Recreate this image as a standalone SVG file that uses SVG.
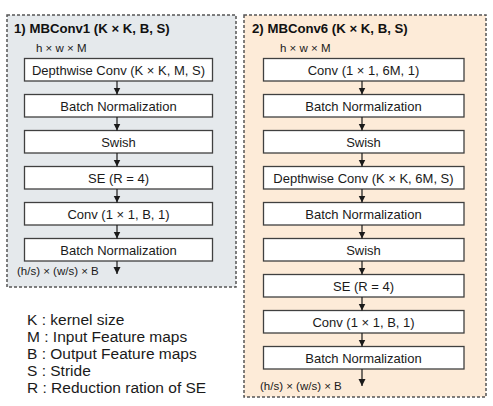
<svg xmlns="http://www.w3.org/2000/svg" width="493" height="406" viewBox="0 0 493 406">
<defs>
<style>
.panel{stroke:#555;stroke-width:1.5;stroke-dasharray:3 2}
.box rect{fill:#fff;stroke:#404040;stroke-width:1.3}
.box text,.t{font-family:"Liberation Sans",Arial,sans-serif;fill:#1a1a1a;text-anchor:middle;font-size:13px}
.title{font-family:"Liberation Sans",Arial,sans-serif;font-weight:bold;font-size:13.2px;fill:#111}
.sm{font-family:"Liberation Sans",Arial,sans-serif;font-size:11.5px;fill:#1a1a1a}
.leg{font-family:"Liberation Sans",Arial,sans-serif;font-size:15.5px;fill:#1a1a1a}
.conn line{stroke:#1a1a1a;stroke-width:1.2;marker-end:url(#ah)}
</style>
<marker id="ah" markerWidth="8" markerHeight="8" refX="7" refY="4" orient="auto" markerUnits="userSpaceOnUse">
<path d="M0,0.5 L7,4 L0,7.5 Z" fill="#1a1a1a"/>
</marker>
</defs>
<rect width="493" height="406" fill="#fff"/>
<g id="panel1">
<rect class="panel" x="7" y="15" width="229" height="272" fill="#e5e9ec"/>
<text class="title" x="14" y="33">1) MBConv1 (K × K, B, S)</text>
<text class="sm" x="36" y="52">h × w × M</text>
<text class="sm" x="17" y="275">(h/s) × (w/s) × B</text>
</g>
<g id="panel2">
<rect class="panel" x="244" y="15" width="242" height="382" fill="#fdebd8"/>
<text class="title" x="252" y="33">2) MBConv6 (K × K, B, S)</text>
<text class="sm" x="280" y="52">h × w × M</text>
<text class="sm" x="260" y="390">(h/s) × (w/s) × B</text>
</g>
<g id="a1" class="box"><rect x="24.5" y="58.5" width="188" height="22.5"/><text x="118.5" y="74.5">Depthwise Conv (K × K, M, S)</text></g>
<g id="a2" class="box"><rect x="24.5" y="94.5" width="188" height="22.5"/><text x="118.5" y="110.5">Batch Normalization</text></g>
<g id="a3" class="box"><rect x="24.5" y="130.5" width="188" height="22.5"/><text x="118.5" y="146.5">Swish</text></g>
<g id="a4" class="box"><rect x="24.5" y="166.5" width="188" height="22.5"/><text x="118.5" y="182.5">SE (R = 4)</text></g>
<g id="a5" class="box"><rect x="24.5" y="202.5" width="188" height="22.5"/><text x="118.5" y="218.5">Conv (1 × 1, B, 1)</text></g>
<g id="a6" class="box"><rect x="24.5" y="238.5" width="188" height="22.5"/><text x="118.5" y="254.5">Batch Normalization</text></g>
<g id="b1" class="box"><rect x="263.5" y="58.5" width="200.5" height="22.5"/><text x="363.5" y="74.5">Conv (1 × 1, 6M, 1)</text></g>
<g id="b2" class="box"><rect x="263.5" y="94.5" width="200.5" height="22.5"/><text x="363.5" y="110.5">Batch Normalization</text></g>
<g id="b3" class="box"><rect x="263.5" y="130.5" width="200.5" height="22.5"/><text x="363.5" y="146.5">Swish</text></g>
<g id="b4" class="box"><rect x="263.5" y="166.5" width="200.5" height="22.5"/><text x="363.5" y="182.5">Depthwise Conv (K × K, 6M, S)</text></g>
<g id="b5" class="box"><rect x="263.5" y="202.5" width="200.5" height="22.5"/><text x="363.5" y="218.5">Batch Normalization</text></g>
<g id="b6" class="box"><rect x="263.5" y="238.5" width="200.5" height="22.5"/><text x="363.5" y="254.5">Swish</text></g>
<g id="b7" class="box"><rect x="263.5" y="274.5" width="200.5" height="22.5"/><text x="363.5" y="290.5">SE (R = 4)</text></g>
<g id="b8" class="box"><rect x="263.5" y="310.5" width="200.5" height="22.5"/><text x="363.5" y="326.5">Conv (1 × 1, B, 1)</text></g>
<g id="b9" class="box"><rect x="263.5" y="346.5" width="200.5" height="22.5"/><text x="363.5" y="362.5">Batch Normalization</text></g>
<g id="connectors" class="conn">
<line x1="117" y1="81" x2="117" y2="94.5"/>
<line x1="117" y1="117" x2="117" y2="130.5"/>
<line x1="117" y1="153" x2="117" y2="166.5"/>
<line x1="117" y1="189" x2="117" y2="202.5"/>
<line x1="117" y1="225" x2="117" y2="238.5"/>
<line x1="117" y1="261" x2="117" y2="274"/>
<line x1="362" y1="81" x2="362" y2="94.5"/>
<line x1="362" y1="117" x2="362" y2="130.5"/>
<line x1="362" y1="153" x2="362" y2="166.5"/>
<line x1="362" y1="189" x2="362" y2="202.5"/>
<line x1="362" y1="225" x2="362" y2="238.5"/>
<line x1="362" y1="261" x2="362" y2="274.5"/>
<line x1="362" y1="297" x2="362" y2="310.5"/>
<line x1="362" y1="333" x2="362" y2="346.5"/>
<line x1="362" y1="369" x2="362" y2="386"/>
</g>
<g id="legend">
<text class="leg" x="27" y="325">K : kernel size</text>
<text class="leg" x="27" y="342">M : Input Feature maps</text>
<text class="leg" x="27" y="359">B : Output Feature maps</text>
<text class="leg" x="27" y="376">S : Stride</text>
<text class="leg" x="27" y="393">R : Reduction ration of SE</text>
</g>
</svg>
